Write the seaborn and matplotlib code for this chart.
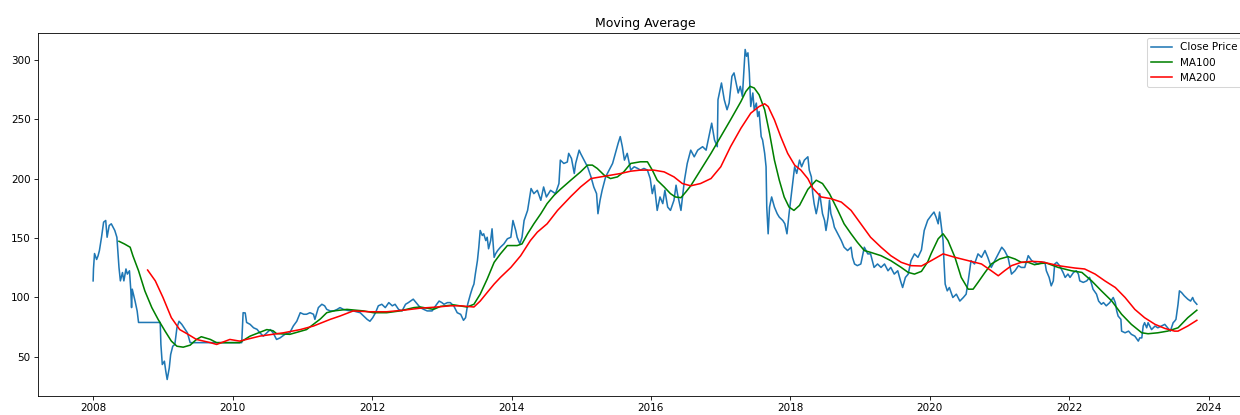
import numpy as np
import pandas as pd
import matplotlib
matplotlib.use("Agg")
import matplotlib.pyplot as plt
import seaborn as sns

# Closing price (decimal year, price)
close_t = [
    2008.00, 2008.005, 2008.02, 2008.05, 2008.07, 2008.09, 2008.12, 2008.15, 2008.18, 2008.20,
    2008.23, 2008.26, 2008.31, 2008.34, 2008.37, 2008.39, 2008.42, 2008.44, 2008.47, 2008.49,
    2008.52, 2008.54, 2008.55, 2008.56, 2008.60, 2008.63, 2008.65, 2008.96, 2008.97, 2008.99,
    2009.02, 2009.04, 2009.06, 2009.09, 2009.11, 2009.14, 2009.17, 2009.20, 2009.23, 2009.27,
    2009.32, 2009.35, 2009.39, 2010.13, 2010.15, 2010.18, 2010.20, 2010.25, 2010.30, 2010.35,
    2010.39, 2010.44, 2010.49, 2010.54, 2010.58, 2010.63, 2010.68, 2010.75, 2010.82, 2010.87,
    2010.92, 2010.97, 2011.02, 2011.06, 2011.11, 2011.16, 2011.18, 2011.23, 2011.28, 2011.32,
    2011.35, 2011.40, 2011.45, 2011.50, 2011.54, 2011.59, 2011.66, 2011.73, 2011.83, 2011.88,
    2011.93, 2011.97, 2012.01, 2012.05, 2012.09, 2012.14, 2012.19, 2012.24, 2012.29, 2012.33,
    2012.38, 2012.43, 2012.48, 2012.52, 2012.59, 2012.65, 2012.69, 2012.74, 2012.79, 2012.86,
    2012.91, 2012.96, 2013.00, 2013.03, 2013.08, 2013.12, 2013.17, 2013.22, 2013.27, 2013.31,
    2013.34, 2013.37, 2013.41, 2013.44, 2013.46, 2013.48, 2013.51, 2013.53, 2013.55, 2013.58,
    2013.60, 2013.63, 2013.65, 2013.67, 2013.70, 2013.72, 2013.75, 2013.77, 2013.80, 2013.84,
    2013.89, 2013.94, 2013.99, 2014.02, 2014.06, 2014.08, 2014.12, 2014.15, 2014.18, 2014.23,
    2014.26, 2014.28, 2014.32, 2014.37, 2014.42, 2014.46, 2014.50, 2014.56, 2014.63, 2014.68,
    2014.70, 2014.75, 2014.80, 2014.82, 2014.86, 2014.90, 2014.92, 2014.97, 2014.99, 2015.04,
    2015.09, 2015.14, 2015.18, 2015.22, 2015.24, 2015.27, 2015.30, 2015.35, 2015.40, 2015.45,
    2015.49, 2015.53, 2015.56, 2015.59, 2015.62, 2015.66, 2015.71, 2015.76, 2015.81, 2015.85,
    2015.90, 2015.95, 2015.99, 2016.02, 2016.05, 2016.09, 2016.13, 2016.17, 2016.20, 2016.24,
    2016.28, 2016.33, 2016.36, 2016.38, 2016.43, 2016.48, 2016.52, 2016.57, 2016.62, 2016.67,
    2016.74, 2016.79, 2016.83, 2016.87, 2016.91, 2016.95, 2016.96, 2016.99, 2017.01, 2017.05,
    2017.09, 2017.12, 2017.16, 2017.19, 2017.22, 2017.25, 2017.28, 2017.31, 2017.35, 2017.37,
    2017.39, 2017.41, 2017.43, 2017.46, 2017.48, 2017.51, 2017.53, 2017.55, 2017.58, 2017.60,
    2017.63, 2017.65, 2017.66, 2017.68, 2017.70, 2017.73, 2017.77, 2017.81, 2017.84, 2017.89,
    2017.92, 2017.95, 2017.98, 2018.02, 2018.06, 2018.09, 2018.13, 2018.16, 2018.20, 2018.25,
    2018.27, 2018.30, 2018.32, 2018.34, 2018.37, 2018.39, 2018.42, 2018.44, 2018.46, 2018.49,
    2018.51, 2018.54, 2018.56, 2018.58, 2018.61, 2018.63, 2018.68, 2018.73, 2018.77, 2018.82,
    2018.87, 2018.89, 2018.92, 2018.96, 2019.01, 2019.06, 2019.11, 2019.15, 2019.20, 2019.25,
    2019.30, 2019.35, 2019.40, 2019.44, 2019.49, 2019.54, 2019.58, 2019.61, 2019.65, 2019.69,
    2019.73, 2019.78, 2019.83, 2019.88, 2019.92, 2019.97, 2020.02, 2020.06, 2020.09, 2020.12,
    2020.14, 2020.16, 2020.19, 2020.20, 2020.22, 2020.25, 2020.28, 2020.33, 2020.38, 2020.43,
    2020.48, 2020.52, 2020.55, 2020.57, 2020.59, 2020.64, 2020.69, 2020.74, 2020.79, 2020.83,
    2020.88, 2020.93, 2020.98, 2021.03, 2021.07, 2021.12, 2021.17, 2021.22, 2021.27, 2021.31,
    2021.36, 2021.41, 2021.46, 2021.50, 2021.55, 2021.60, 2021.65, 2021.67, 2021.71, 2021.74,
    2021.77, 2021.79, 2021.82, 2021.86, 2021.91, 2021.94, 2021.98, 2022.01, 2022.06, 2022.10,
    2022.13, 2022.15, 2022.20, 2022.25, 2022.29, 2022.32, 2022.34, 2022.39, 2022.42, 2022.46,
    2022.49, 2022.53, 2022.58, 2022.63, 2022.66, 2022.68, 2022.70, 2022.74, 2022.75, 2022.80,
    2022.85, 2022.89, 2022.94, 2022.99, 2023.01, 2023.04, 2023.06, 2023.08, 2023.11, 2023.13,
    2023.18, 2023.23, 2023.27, 2023.32, 2023.37, 2023.41, 2023.45, 2023.49, 2023.51, 2023.53,
    2023.56, 2023.58, 2023.61, 2023.65, 2023.70, 2023.74, 2023.77, 2023.79, 2023.83,
]
close_v = [
    114, 124, 137, 132, 135, 139.5, 150.7, 163.4, 164.8, 150.7,
    160.6, 162, 156.4, 150.7, 125.3, 114, 121, 114, 124, 119.7,
    122.5, 105.6, 91.5, 107, 97, 88.7, 79, 79, 60.5, 43.6,
    46.4, 38, 31, 40.7, 52, 59, 60.5, 74.5, 80, 77.4,
    73, 70.3, 62, 62, 87.2, 87, 79, 77.4, 74.5, 73.2,
    70.3, 67.5, 70.3, 73, 70.3, 64.7, 66, 69, 70.3, 76,
    80, 87.2, 85.9, 85.9, 87.2, 85.9, 81.6, 91.5, 94.3, 93,
    90, 88.7, 88.7, 90, 91.5, 90, 89, 88.7, 87.2, 84.4,
    81.6, 80, 83, 87.2, 93, 94.3, 91.5, 95.7, 93, 94.3,
    90, 88.7, 94.3, 95.7, 98.6, 94.3, 91.5, 90, 88.7, 88.7,
    93, 97, 95.7, 94.3, 95.7, 95.7, 93, 87.2, 85.8, 80.8,
    83, 94.3, 102.8, 108.4, 111.3, 119.7, 131, 142.3, 156.4, 152.2,
    153.6, 147.9, 150.7, 141, 147.9, 157.8, 133.8, 136.7, 139.5, 142.3,
    145.1, 149.4, 150.7, 164.8, 156.4, 150.7, 145.1, 150.7, 164.8, 173.3,
    184.6, 191.7, 187.4, 190.2, 181.8, 193, 184.6, 190.2, 187.4, 195.9,
    215.6, 212.8, 214, 221.3, 217, 204.4, 212.8, 224, 221.3, 215.6,
    210, 201.5, 193, 187.4, 170.5, 181.8, 190.2, 201.5, 207.2, 212.8,
    221.3, 229.8, 235.4, 226.9, 215.6, 221.3, 207.2, 210, 208.6, 207.2,
    208.6, 207.2, 200.1, 187.4, 194.5, 173.3, 184.6, 179, 190.2, 176.1,
    173.3, 181.8, 194.5, 187.4, 173.3, 198.7, 212.8, 224, 218.4, 224,
    226.9, 224, 235.4, 246.7, 232.6, 226.9, 266.4, 274.9, 280.5, 266.4,
    258, 263.6, 286.1, 289, 280.5, 272.1, 277.7, 269.2, 308.7, 303,
    305.9, 289, 260.7, 272.1, 258, 263.6, 252.3, 256.5, 235.4, 232.6,
    221.3, 210, 176.1, 153.6, 176.1, 184.6, 176.1, 170.5, 167.6, 164.8,
    162, 153.6, 170.5, 190.2, 210, 204.4, 215.6, 210, 215.6, 218.4,
    207.2, 201.5, 187.4, 179, 170.5, 176.1, 187.4, 179, 170.5, 164.8,
    156.4, 167.6, 181.8, 170.5, 164.8, 159.2, 153.6, 147.9, 142.3, 139.5,
    142.3, 133.8, 128.2, 126.8, 128.2, 142.3, 136.7, 136.7, 125.3, 128.2,
    125.3, 128.2, 122.5, 125.3, 119.7, 122.5, 114, 108.4, 116.9, 119.7,
    131, 136.7, 133.8, 140, 156.4, 165, 169, 171.9, 167.6, 162,
    171.9, 162, 147.9, 133.8, 111.3, 105.6, 108.4, 100, 102.8, 97,
    100, 102.8, 114, 122.5, 131, 128.2, 136.7, 133.8, 139.5, 133.8,
    125.3, 131, 136.7, 142.3, 139.5, 133.8, 119.7, 122.5, 126.8, 125.3,
    125.3, 135.2, 131, 129.6, 128.2, 129.6, 129.6, 122.5, 116.9, 109.8,
    114, 128.2, 129.6, 126.8, 121.1, 116.9, 119.7, 116.9, 121.1, 122.5,
    119.7, 114, 112.7, 114, 116.9, 111.3, 107, 102.8, 97, 94.3,
    95.7, 93, 95.7, 100, 95.7, 88.7, 84.4, 81.6, 71.7, 70.3,
    71.7, 69, 67.5, 63.3, 66, 66, 76, 78.8, 74.5, 78.8,
    73, 76, 74.5, 76, 77.4, 74.5, 71.7, 78.8, 80, 81.6,
    94.3, 105.6, 104.2, 101.4, 98.6, 97, 100, 97, 94.3,
]

# 100-day moving average
ma100_t = [
    2008.37, 2008.45, 2008.53, 2008.57, 2008.65, 2008.74, 2008.84, 2008.93, 2009.03, 2009.12,
    2009.20, 2009.29, 2009.39, 2009.48, 2009.55, 2009.68, 2009.77, 2010.10, 2010.25, 2010.49,
    2010.58, 2010.63, 2010.82, 2011.06, 2011.26, 2011.35, 2011.45, 2011.64, 2011.88, 2012.02,
    2012.21, 2012.40, 2012.60, 2012.69, 2012.79, 2012.88, 2012.98, 2013.17, 2013.36, 2013.46,
    2013.55, 2013.65, 2013.75, 2013.84, 2013.94, 2014.08, 2014.15, 2014.23, 2014.32, 2014.42,
    2014.51, 2014.61, 2014.70, 2014.85, 2014.99, 2015.09, 2015.16, 2015.23, 2015.33, 2015.42,
    2015.52, 2015.61, 2015.71, 2015.85, 2015.95, 2016.02, 2016.09, 2016.19, 2016.28, 2016.35,
    2016.43, 2016.50, 2016.57, 2016.71, 2016.86, 2017.00, 2017.14, 2017.29, 2017.36, 2017.42,
    2017.48, 2017.55, 2017.63, 2017.70, 2017.77, 2017.84, 2017.91, 2017.98, 2018.05, 2018.13,
    2018.25, 2018.37, 2018.46, 2018.56, 2018.68, 2018.77, 2018.87, 2018.96, 2019.06, 2019.15,
    2019.30, 2019.44, 2019.59, 2019.69, 2019.78, 2019.88, 2019.97, 2020.02, 2020.12, 2020.19,
    2020.26, 2020.36, 2020.45, 2020.55, 2020.62, 2020.69, 2020.79, 2020.88, 2021.00, 2021.12,
    2021.22, 2021.31, 2021.41, 2021.50, 2021.60, 2021.67, 2021.84, 2022.03, 2022.18, 2022.32,
    2022.46, 2022.61, 2022.75, 2022.89, 2023.04, 2023.13, 2023.27, 2023.41, 2023.56, 2023.70,
    2023.83,
]
ma100_v = [
    147.3, 145, 142.3, 135, 122.5, 105.6, 91.5, 81.6, 71.7, 63.3,
    59, 58.2, 59.9, 64.7, 67, 64.7, 62, 62, 67.5, 73,
    72, 69.6, 69, 73, 82, 87.2, 88.7, 90, 88.7, 87.2,
    87.2, 88.7, 91.5, 92, 91, 90, 92.5, 93.8, 92, 94.3,
    102.8, 115.5, 129.6, 136.7, 143.7, 143.7, 145.1, 153.6, 162, 170.5,
    179, 186, 191, 198.7, 205.7, 211.4, 211.4, 208.6, 202.9, 200.1,
    201.5, 205.7, 212.8, 214.2, 214.2, 207.2, 198.7, 193, 187.4, 184.6,
    184, 188.8, 194, 207.2, 221.3, 235.4, 249.5, 265, 273.4, 277.7,
    276.3, 270.6, 258, 238.2, 215.6, 198.7, 184.6, 176.1, 173.3, 177.5,
    191, 198.7, 195.9, 187.4, 173.3, 162, 153.6, 146.5, 139.5, 138,
    135.2, 131, 125.3, 121.1, 119.7, 122, 130, 137, 149.4, 153.6,
    147.9, 133.8, 116.9, 107, 107, 112.7, 121.1, 128.2, 132.4, 134.4,
    132.4, 129.6, 129.6, 127.6, 128.7, 129, 125.3, 122.5, 121.1, 114,
    105.6, 97, 85.9, 77.4, 70.3, 69.5, 70.3, 71.7, 74.5, 83,
    89.3,
]

# 200-day moving average
ma200_t = [
    2008.78, 2008.89, 2009.00, 2009.12, 2009.24, 2009.36, 2009.48, 2009.68, 2009.77, 2009.96,
    2010.10, 2010.39, 2010.73, 2010.97, 2011.16, 2011.40, 2011.54, 2011.73, 2011.97, 2012.21,
    2012.45, 2012.69, 2012.93, 2013.12, 2013.27, 2013.46, 2013.55, 2013.65, 2013.75, 2013.84,
    2013.99, 2014.13, 2014.27, 2014.37, 2014.51, 2014.66, 2014.85, 2014.99, 2015.14, 2015.28,
    2015.42, 2015.57, 2015.71, 2015.85, 2016.04, 2016.19, 2016.33, 2016.45, 2016.57, 2016.71,
    2016.86, 2017.00, 2017.14, 2017.29, 2017.43, 2017.55, 2017.63, 2017.68, 2017.77, 2017.86,
    2017.96, 2018.06, 2018.15, 2018.25, 2018.32, 2018.44, 2018.58, 2018.73, 2018.87, 2019.01,
    2019.15, 2019.30, 2019.44, 2019.59, 2019.73, 2019.88, 2020.02, 2020.19, 2020.36, 2020.55,
    2020.74, 2020.88, 2020.98, 2021.07, 2021.17, 2021.31, 2021.46, 2021.60, 2021.74, 2021.84,
    2022.08, 2022.22, 2022.37, 2022.51, 2022.66, 2022.80, 2022.94, 2023.08, 2023.23, 2023.37,
    2023.51, 2023.56, 2023.70, 2023.83,
]
ma200_v = [
    123.1, 114, 100, 83, 73, 69, 64.7, 62, 60.5, 64.7,
    63.3, 67.5, 70.3, 73, 76, 81.6, 84.4, 88.7, 88, 88,
    89.3, 91, 92, 93, 93, 92, 97, 104.2, 111.3, 116.9,
    125.3, 135.1, 147.9, 155, 162, 173.3, 185, 193, 200.1, 201.5,
    202.9, 204.4, 206.3, 207.2, 207.2, 205.7, 201.5, 195.9, 194, 195.9,
    200.1, 210, 226.9, 242.5, 255.1, 260.7, 263, 260.7, 249.5, 235.4,
    221.3, 211.4, 207.2, 200, 192, 184.6, 183.2, 180.3, 173.3, 162,
    150.7, 142.3, 135.2, 129.6, 126.8, 126.5, 131, 136.7, 133.8, 131,
    128.2, 122.5, 118.3, 122.5, 126.8, 129.6, 130.4, 130, 128.2, 126.8,
    124.8, 124, 119.7, 114, 108.4, 100, 90, 83, 77.4, 74,
    71.7, 71.7, 76, 80.8,
]


def to_dates(years):
    """Convert fractional years to timestamps."""
    out = []
    for y in years:
        base = int(np.floor(y))
        start = pd.Timestamp(year=base, month=1, day=1)
        span = pd.Timestamp(year=base + 1, month=1, day=1) - start
        out.append(start + (y - base) * span)
    return pd.to_datetime(out)


close_df = pd.DataFrame({"Date": to_dates(close_t), "Close": close_v})
ma100_df = pd.DataFrame({"Date": to_dates(ma100_t), "MA100": ma100_v})
ma200_df = pd.DataFrame({"Date": to_dates(ma200_t), "MA200": ma200_v})

DPI = 75
fig = plt.figure(figsize=(1240 / DPI, 415 / DPI), dpi=DPI)
ax = fig.add_axes([0.0306, 0.0458, 0.9791, 0.8747])

sns.lineplot(data=close_df, x="Date", y="Close", ax=ax, color="#1f77b4",
             linewidth=1.5, label="Close Price")
sns.lineplot(data=ma100_df, x="Date", y="MA100", ax=ax, color="green",
             linewidth=1.5, label="MA100")
sns.lineplot(data=ma200_df, x="Date", y="MA200", ax=ax, color="red",
             linewidth=1.5, label="MA200")

ax.set_title("Moving Average", fontsize=12)
ax.set_xlabel("")
ax.set_ylabel("")
ax.legend(loc="upper right", bbox_to_anchor=(0.9959, 1.0))

fig.savefig("out.png", dpi=DPI)
